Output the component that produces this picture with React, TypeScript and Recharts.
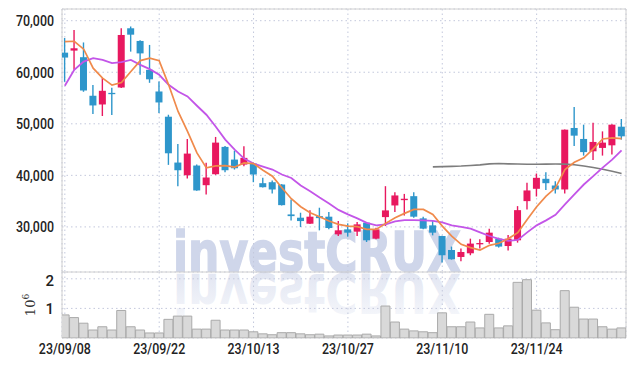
import React from 'react';
import { ComposedChart, Bar, Line, XAxis, YAxis, CartesianGrid, ReferenceArea } from 'recharts';

const dates = [
  '23/09/08','23/09/11','23/09/12','23/09/13','23/09/14','23/09/15','23/09/18','23/09/19','23/09/20','23/09/21',
  '23/09/22','23/09/25','23/09/26','23/09/27','23/10/04','23/10/05','23/10/06','23/10/10','23/10/11','23/10/12',
  '23/10/13','23/10/16','23/10/17','23/10/18','23/10/19','23/10/20','23/10/23','23/10/24','23/10/25','23/10/26',
  '23/10/27','23/10/30','23/10/31','23/11/01','23/11/02','23/11/03','23/11/06','23/11/07','23/11/08','23/11/09',
  '23/11/10','23/11/13','23/11/14','23/11/15','23/11/16','23/11/17','23/11/20','23/11/21','23/11/22','23/11/23',
  '23/11/24','23/11/27','23/11/28','23/11/29','23/11/30','23/12/01','23/12/04','23/12/05','23/12/06','23/12/07',
];

const opens = [
  63800, 64200, 62920, 55440, 53750, 56000, 57040, 68530, 66070, 60470,
  56270, 51375, 42480, 40020, 41900, 38090, 40220, 45520, 43060, 42090,
  42285, 38480, 38670, 38220, 32420, 31785, 30620, 32090, 31980, 28555,
  29520, 29075, 30820, 27720, 31900, 34160, 35190, 35960, 31650, 30300,
  28230, 25520, 24165, 24880, 26690, 27070, 27720, 26290, 27400, 35000,
  37390, 39330, 38030, 37260, 49190, 47060, 44665, 45320, 45825, 49440,
];
const closes = [
  62850, 64650, 56460, 53560, 56400, 55900, 67230, 67290, 63660, 58630,
  54140, 44280, 40990, 44220, 37070, 39580, 46350, 40990, 41380, 43390,
  40160, 37700, 37260, 34220, 32090, 31130, 31980, 31700, 29780, 29330,
  28880, 30490, 27400, 29520, 33200, 36100, 35460, 31980, 29660, 28880,
  24500, 23720, 25130, 26760, 26870, 28880, 26180, 27720, 33250, 37070,
  39520, 38480, 37260, 48860, 47700, 44510, 46480, 46350, 49830, 47570,
];
const highs = [
  66650, 68200, 65780, 57510, 58860, 57000, 68530, 68880, 66200, 65300,
  58200, 51760, 46100, 47060, 42100, 42420, 47450, 45700, 44800, 45630,
  42420, 39520, 39000, 38300, 35320, 32750, 33250, 33720, 32870, 31130,
  30680, 30940, 30940, 29850, 37900, 36735, 36400, 36730, 31980, 31130,
  28300, 26180, 25790, 27720, 27600, 29650, 27900, 28450, 34030, 38550,
  40350, 40600, 38860, 48900, 53250, 49830, 50220, 48530, 49900, 50930,
];
const lows = [
  58150, 60470, 56210, 51900, 51510, 51700, 56930, 64000, 59500, 57950,
  52090, 42030, 37900, 39385, 37000, 36290, 40100, 40600, 41125, 41760,
  38670, 37650, 36480, 34150, 31260, 29970, 30550, 29330, 29520, 28230,
  28110, 28230, 27070, 27590, 30160, 32870, 32200, 31780, 29520, 28360,
  23080, 23650, 23330, 24500, 25790, 26720, 25990, 25400, 26950, 33390,
  35900, 37160, 36480, 36480, 45670, 43830, 43000, 43830, 44030, 46930,
];

const ma5 = [
  65940, 66010, 64470, 60790, 58860, 57510, 58010, 60140, 62260, 62730,
  62260, 57560, 52400, 48530, 44350, 41450, 41830, 41900, 41600, 42420,
  42290, 40990, 39830, 37590, 35460, 33910, 32750, 31980, 31130, 30490,
  30160, 30040, 29520, 29520, 30680, 31790, 32620, 33390, 33390, 32420,
  30160, 28230, 26610, 25980, 25520, 26430, 26820, 27720, 28880, 31450,
  33910, 35960, 37590, 41130, 42540, 43390, 45130, 47060, 47250, 47120,
];
const ma10 = [
  57370, 60470, 62070, 62730, 62400, 61760, 61950, 62400, 61430, 60600,
  59500, 57560, 56270, 55300, 53500, 51760, 49440, 46930, 45000, 43250,
  42290, 41700, 41130, 40160, 39480, 38030, 36930, 35710, 34550, 33290,
  32420, 31650, 30780, 30300, 30490, 31070, 31330, 31330, 31250, 31170,
  30870, 30300, 30010, 29660, 28940, 28230, 27680, 27300, 27490, 28940,
  30300, 31260, 32330, 34360, 36290, 38220, 39840, 41510, 43060, 44860,
];
const ma60 = [
  null, null, null, null, null, null, null, null, null, null,
  null, null, null, null, null, null, null, null, null, null,
  null, null, null, null, null, null, null, null, null, null,
  null, null, null, null, null, null, null, null, null, 41650,
  41690, 41750, 41800, 41900, 42040, 42230, 42290, 42230, 42190, 42150,
  42150, 42170, 42190, 42170, 42060, 41800, 41510, 41170, 40780, 40350,
];

// volume in millions of shares
const volumes = [
  0.78, 0.69, 0.50, 0.27, 0.38, 0.27, 0.93, 0.38, 0.27, 0.17,
  0.17, 0.63, 0.74, 0.74, 0.30, 0.30, 0.60, 0.27, 0.27, 0.27,
  0.21, 0.14, 0.11, 0.18, 0.18, 0.14, 0.11, 0.13, 0.07, 0.10,
  0.10, 0.10, 0.13, 0.07, 1.08, 0.54, 0.30, 0.24, 0.21, 0.18,
  0.85, 0.38, 0.38, 0.54, 0.34, 0.80, 0.34, 0.41, 1.88, 1.97,
  0.94, 0.51, 0.28, 1.60, 1.04, 0.64, 0.64, 0.38, 0.30, 0.34,
];

const priceTicks = [30000, 40000, 50000, 60000, 70000];
const volumeTicks = [1000000, 2000000];
const dateTicks = [0, 10, 20, 30, 40, 50];

const X_DOMAIN: [number, number] = [-0.3, 59.47];
const PRICE_DOMAIN: [number, number] = [21250, 72270];
const VOL_DOMAIN: [number, number] = [0, 2230000];

const UP = '#e8185f';
const DOWN = '#2e96cb';
const GRID = '#c3c8dc';
const BORDER = '#d0d0d0';
const FONT = "Roboto, 'DejaVu Sans Condensed', sans-serif";

const data = dates.map((d, i) => ({
  i,
  date: d,
  open: opens[i],
  close: closes[i],
  high: highs[i],
  low: lows[i],
  range: [lows[i], highs[i]],
  ma5: ma5[i],
  ma10: ma10[i],
  ma60: ma60[i],
  vol: volumes[i] * 1000000,
}));

const Candle = (props: any) => {
  const { x, y, width, height, payload } = props;
  if (x == null || y == null || !payload) return null;
  const { open, close, high, low } = payload;
  const top0 = Math.min(y, y + height);
  const h = Math.abs(height);
  const span = high - low || 1;
  const py = (v: number) => top0 + ((high - v) / span) * h;
  const cx = x + width / 2;
  const up = close >= open;
  const color = up ? UP : DOWN;
  const bt = py(Math.max(open, close));
  const bb = py(Math.min(open, close));
  return (
    <g>
      <line x1={cx} x2={cx} y1={top0} y2={top0 + h} stroke={color} strokeWidth={1.4} />
      <rect x={cx - 3.5} y={bt} width={7} height={Math.max(bb - bt, 1.3)} fill={color} />
    </g>
  );
};

const PriceTick = (props: any) => {
  const { x, y, payload } = props;
  const label = Number(payload.value).toLocaleString('en-US');
  return (
    <text x={x} y={y} dy="0.36em" textAnchor="end" fontFamily={FONT} fontWeight={500} fontSize={15} fill="#222"
      textLength={38} lengthAdjust="spacingAndGlyphs">
      {label}
    </text>
  );
};

const VolTick = (props: any) => {
  const { x, y, payload } = props;
  return (
    <text x={x} y={y} dy="0.36em" textAnchor="end" fontFamily={FONT} fontWeight={500} fontSize={15} fill="#222">
      {String(payload.value / 1000000)}
    </text>
  );
};

const DateTick = (props: any) => {
  const { x, y, payload } = props;
  return (
    <text x={x} y={y} dy="0.72em" textAnchor="middle" fontFamily={FONT} fontWeight={500} fontSize={15} fill="#222"
      textLength={52} lengthAdjust="spacingAndGlyphs">
      {dates[payload.value]}
    </text>
  );
};

const VolLabel = (props: any) => {
  const vb = props.viewBox || { x: 0, y: 0, width: 62, height: 66 };
  const cx = vb.x + 35;
  const cy = vb.y + 33;
  return (
    <text
      transform={`translate(${cx}, ${cy}) rotate(-90)`}
      textAnchor="middle"
      fontFamily="'DejaVu Serif', serif"
      fontSize={13}
      fill="#333"
    >
      10
      <tspan dy={-6} fontSize={9}>6</tspan>
    </text>
  );
};

export default function App() {
  return (
    <div style={{ position: 'absolute', left: 0, top: 0, width: 634, height: 366, background: '#fff' }}>
      <svg width={634} height={366} style={{ position: 'absolute', left: 0, top: 0 }}>
        <defs>
          <linearGradient id="reflFade" x1="0" y1="0" x2="0" y2="1">
            <stop offset="0%" stopColor="#d2d8eb" stopOpacity={0.15} />
            <stop offset="100%" stopColor="#d2d8eb" stopOpacity={0.75} />
          </linearGradient>
        </defs>
        <text
          x={317}
          y={271}
          textAnchor="middle"
          fontFamily="'DejaVu Sans', sans-serif"
          fontWeight="bold"
          fontSize={56}
          fill="#cfd6ea"
          stroke="#cfd6ea"
          strokeWidth={1.5}
          textLength={288}
          lengthAdjust="spacingAndGlyphs"
        >
          investCRUX
        </text>
        <g transform="translate(0,545) scale(1,-1)">
          <text
            x={317}
            y={271}
            textAnchor="middle"
            fontFamily="'DejaVu Sans', sans-serif"
            fontWeight="bold"
            fontSize={56}
            fill="url(#reflFade)"
            textLength={288}
            lengthAdjust="spacingAndGlyphs"
          >
            investCRUX
          </text>
        </g>
      </svg>

      <div style={{ position: 'absolute', left: 0, top: 0 }}>
        <ComposedChart width={634} height={272} data={data} margin={{ top: 9, right: 8, bottom: 0, left: 0 }}>
          <CartesianGrid stroke={GRID} strokeDasharray="1.5 3" />
          <XAxis dataKey="i" type="number" domain={X_DOMAIN} ticks={dateTicks} allowDataOverflow hide />
          <YAxis
            type="number"
            domain={PRICE_DOMAIN}
            ticks={priceTicks}
            allowDataOverflow
            width={62}
            axisLine={false}
            tickLine={false}
            tick={<PriceTick />}
          />
          <ReferenceArea x1={X_DOMAIN[0]} x2={X_DOMAIN[1]} y1={PRICE_DOMAIN[0]} y2={PRICE_DOMAIN[1]} fill="none" stroke={BORDER} strokeOpacity={1} fillOpacity={0} />
          <Bar dataKey="range" shape={<Candle />} barSize={7} isAnimationActive={false} />
          <Line dataKey="ma60" stroke="#7d7d7d" strokeWidth={1.6} dot={false} isAnimationActive={false} connectNulls={false} />
          <Line dataKey="ma10" stroke="#c355e8" strokeWidth={1.8} dot={false} isAnimationActive={false} />
          <Line dataKey="ma5" stroke="#f08a4b" strokeWidth={1.7} dot={false} isAnimationActive={false} />
        </ComposedChart>
      </div>

      <div style={{ position: 'absolute', left: 0, top: 272 }}>
        <ComposedChart width={634} height={94} data={data} margin={{ top: 0, right: 8, bottom: 0, left: 0 }}>
          <CartesianGrid stroke={GRID} strokeDasharray="1.5 3" />
          <XAxis
            dataKey="i"
            type="number"
            domain={X_DOMAIN}
            ticks={dateTicks}
            allowDataOverflow
            interval={0}
            height={28}
            axisLine={false}
            tickLine={false}
            tickSize={3}
            tickMargin={2}
            tick={<DateTick />}
          />
          <YAxis
            type="number"
            domain={VOL_DOMAIN}
            ticks={volumeTicks}
            allowDataOverflow
            width={62}
            axisLine={false}
            tickLine={false}
            tick={<VolTick />}
            label={<VolLabel />}
          />
          <ReferenceArea x1={X_DOMAIN[0]} x2={X_DOMAIN[1]} y1={VOL_DOMAIN[0]} y2={VOL_DOMAIN[1]} fill="none" stroke={BORDER} strokeOpacity={1} fillOpacity={0} />
          <Bar dataKey="vol" fill="#d9d9d9" stroke="#aaaaaa" strokeWidth={1} barSize={9} isAnimationActive={false} />
        </ComposedChart>
      </div>
    </div>
  );
}
